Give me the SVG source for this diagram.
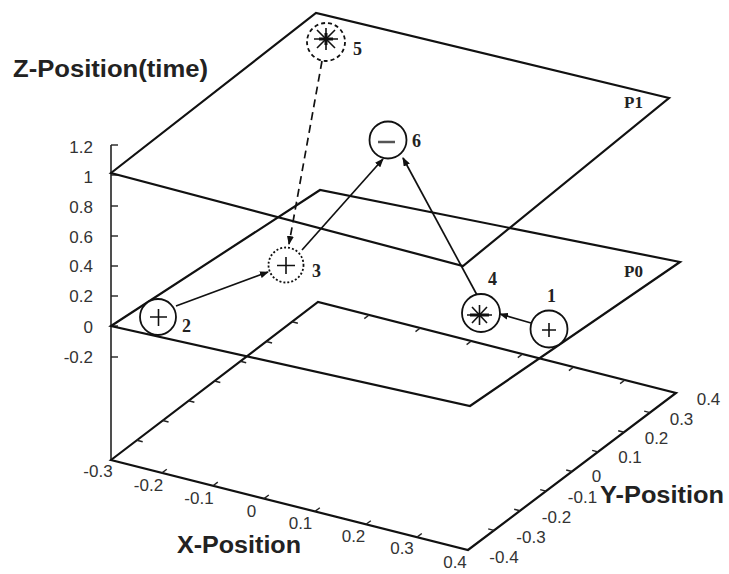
<svg xmlns="http://www.w3.org/2000/svg" width="729" height="574" viewBox="0 0 729 574">
<defs>
<marker id="ah" markerUnits="userSpaceOnUse" markerWidth="9" markerHeight="7" refX="8" refY="3.5" orient="auto">
<path d="M0,0 L9,3.5 L0,7 z" fill="#111"/>
</marker>
<style>
.plane{fill:none;stroke:#111;stroke-width:2.2;stroke-linejoin:miter}
.axis{fill:none;stroke:#222;stroke-width:1.6}
.tick{stroke:#222;stroke-width:1.4}
.lbl{font-family:"Liberation Sans",Arial,sans-serif;font-size:17px;fill:#333}
.big{font-family:"Liberation Sans",Arial,sans-serif;font-size:23px;font-weight:bold;fill:#222}
.pl{font-family:"Liberation Serif","Times New Roman",serif;font-size:17px;font-weight:bold;fill:#222}
.nl{font-family:"Liberation Serif","Times New Roman",serif;font-size:18px;font-weight:bold;fill:#222}
.node{fill:#fff;stroke:#111;stroke-width:1.8}
.sym{stroke:#111;stroke-width:1.6;fill:none}
.conn{stroke:#111;stroke-width:1.7;fill:none}
</style>
</defs>
<rect width="729" height="574" fill="#fff"/>

<g id="axes">
<line class="axis" x1="111" y1="460" x2="111" y2="145"/>
<polygon class="plane" points="111,460 318,302 676,393 468,550"/>
<g class="tick">
<line x1="111" y1="145" x2="118" y2="145"/>
<line x1="111" y1="175" x2="118" y2="175"/>
<line x1="111" y1="206" x2="118" y2="206"/>
<line x1="111" y1="236" x2="118" y2="236"/>
<line x1="111" y1="266" x2="118" y2="266"/>
<line x1="111" y1="296" x2="118" y2="296"/>
<line x1="111" y1="326" x2="118" y2="326"/>
<line x1="111" y1="357" x2="118" y2="357"/>
<line x1="162" y1="472.9" x2="166.8" y2="469.3"/>
<line x1="213" y1="485.7" x2="217.8" y2="482.1"/>
<line x1="264" y1="498.6" x2="268.8" y2="495"/>
<line x1="315" y1="511.4" x2="319.8" y2="507.8"/>
<line x1="366" y1="524.3" x2="370.8" y2="520.7"/>
<line x1="417" y1="537.1" x2="421.8" y2="533.5"/>
<line x1="369.1" y1="315" x2="364.3" y2="318.6"/>
<line x1="420.3" y1="328" x2="415.5" y2="331.6"/>
<line x1="471.4" y1="341" x2="466.6" y2="344.6"/>
<line x1="522.6" y1="354" x2="517.8" y2="357.6"/>
<line x1="573.7" y1="367" x2="568.9" y2="370.6"/>
<line x1="624.9" y1="380" x2="620.1" y2="383.6"/>
<line x1="136.9" y1="440.25" x2="142.7" y2="441.75"/>
<line x1="162.75" y1="420.5" x2="168.55" y2="422"/>
<line x1="188.6" y1="400.75" x2="194.4" y2="402.25"/>
<line x1="214.5" y1="381" x2="220.3" y2="382.5"/>
<line x1="240.4" y1="361.25" x2="246.2" y2="362.75"/>
<line x1="266.25" y1="341.5" x2="272.05" y2="343"/>
<line x1="292.1" y1="321.75" x2="297.9" y2="323.25"/>
<line x1="494" y1="530.4" x2="488.2" y2="528.9"/>
<line x1="520" y1="510.75" x2="514.2" y2="509.25"/>
<line x1="546" y1="491.1" x2="540.2" y2="489.6"/>
<line x1="572" y1="471.5" x2="566.2" y2="470"/>
<line x1="598" y1="451.9" x2="592.2" y2="450.4"/>
<line x1="624" y1="432.25" x2="618.2" y2="430.75"/>
<line x1="650" y1="412.6" x2="644.2" y2="411.1"/>
</g>
<g class="lbl" text-anchor="end">
<text x="93" y="153">1.2</text>
<text x="93" y="183">1</text>
<text x="93" y="213">0.8</text>
<text x="93" y="243">0.6</text>
<text x="93" y="272">0.4</text>
<text x="93" y="302">0.2</text>
<text x="93" y="333">0</text>
<text x="93" y="363">-0.2</text>
</g>
<g class="lbl" text-anchor="middle">
<text x="98" y="477">-0.3</text>
<text x="148.5" y="491">-0.2</text>
<text x="199" y="504">-0.1</text>
<text x="251.5" y="517">0</text>
<text x="300.5" y="529">0.1</text>
<text x="353.5" y="542">0.2</text>
<text x="402" y="554">0.3</text>
<text x="455" y="568">0.4</text>
<text x="504" y="563">-0.4</text>
<text x="531" y="543">-0.3</text>
<text x="556.5" y="523">-0.2</text>
<text x="582.5" y="503">-0.1</text>
<text x="596.5" y="482">0</text>
<text x="630" y="463">0.1</text>
<text x="656.5" y="444">0.2</text>
<text x="681.5" y="425">0.3</text>
<text x="708.5" y="405">0.4</text>
</g>
<text class="big" x="13" y="77" textLength="195" lengthAdjust="spacingAndGlyphs">Z-Position(time)</text>
<text class="big" x="177" y="553" textLength="124" lengthAdjust="spacingAndGlyphs">X-Position</text>
<text class="big" x="600" y="503" textLength="124" lengthAdjust="spacingAndGlyphs">Y-Position</text>
</g>

<g id="plane-P0">
<polygon class="plane" points="111,326 320,190 680,262 470,406"/>
<text class="pl" x="624" y="277">P0</text>
</g>
<g id="plane-P1">
<polygon class="plane" points="111,173 316,13 669,98 463,266"/>
<text class="pl" x="624" y="108">P1</text>
</g>

<g id="connectors">
<line class="conn" x1="531" y1="323" x2="500" y2="314" marker-end="url(#ah)"/>
<line class="conn" x1="176" y1="306" x2="268" y2="272" marker-end="url(#ah)"/>
<line class="conn" x1="302" y1="250" x2="383" y2="159" marker-end="url(#ah)"/>
<line class="conn" x1="477" y1="295" x2="403" y2="158" marker-end="url(#ah)"/>
<line class="conn" x1="322" y1="61" x2="289" y2="244" stroke-dasharray="8,5" marker-end="url(#ah)"/>
</g>

<g id="node-1">
<circle class="node" cx="549" cy="329" r="18.5"/>
<path class="sym" d="M542,330 h14 M549,323 v14"/>
<text class="nl" x="547" y="302">1</text>
</g>
<g id="node-2">
<circle class="node" cx="158" cy="317" r="18"/>
<path class="sym" d="M150,317 h17 M158.5,309 v17"/>
<text class="nl" x="182" y="332">2</text>
</g>
<g id="node-3">
<circle class="node" cx="286" cy="265" r="17.5" stroke-dasharray="2,2"/>
<path class="sym" d="M277,265.5 h18 M286,257 v17"/>
<text class="nl" x="312" y="277">3</text>
</g>
<g id="node-4">
<circle class="node" cx="481" cy="313" r="19"/>
<path class="sym" d="M467,315 h25 M479.5,305 v20 M472,307 L487,323 M487,307 L472,323"/>
<path d="M470,315 h19" stroke="#111" stroke-width="3"/>
<text class="nl" x="488" y="285">4</text>
</g>
<g id="node-5">
<circle class="node" cx="326" cy="42" r="19" stroke-dasharray="4,3"/>
<path class="sym" d="M314,39 h24 M326,28 v22 M317,30 L335,48 M335,30 L317,48"/>
<path d="M319,39 h14 M326,33 v12" stroke="#111" stroke-width="3"/>
<text class="nl" x="353" y="55">5</text>
</g>
<g id="node-6">
<circle class="node" cx="388" cy="140" r="18.5"/>
<path d="M378,142 h17" stroke="#555" stroke-width="2.5"/>
<text class="nl" x="412" y="147">6</text>
</g>
</svg>
